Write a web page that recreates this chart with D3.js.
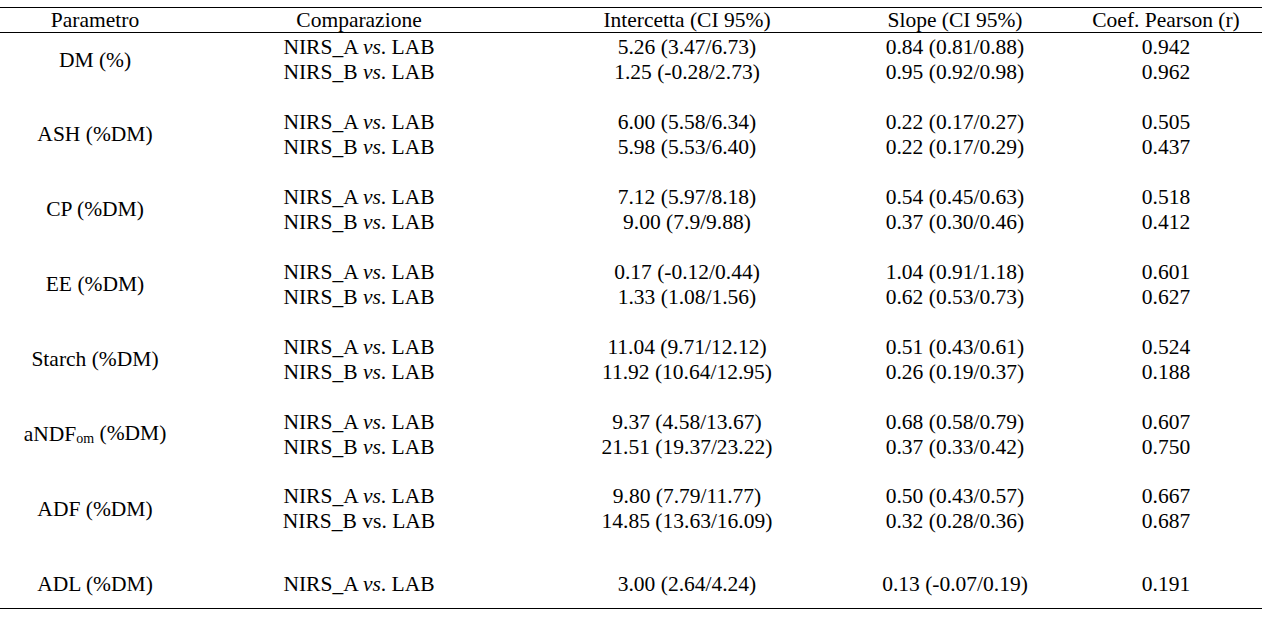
<!DOCTYPE html>
<head>
  <meta charset="utf-8">
  <script src="https://d3js.org/d3.v7.min.js"></script>
  <style>
    body {
      margin: 0;
      padding: 0;
      background: #fff;
    }

    text {
      font-family: "Liberation Serif", serif;
      font-size: 21.5px;
      fill: #000;
    }
  </style>
</head>

<body>
  <script>
    // intestazioni delle colonne
    var intestazioni = ['Parametro', 'Comparazione', 'Intercetta (CI 95%)', 'Slope (CI 95%)', 'Coef. Pearson (r)'];

    // parametri (gruppi di righe); "_{..}" = pedice
    var parametri = ['DM (%)', 'ASH (%DM)', 'CP (%DM)', 'EE (%DM)', 'Starch (%DM)',
      'aNDF_{om} (%DM)', 'ADF (%DM)', 'ADL (%DM)'];

    // una voce per riga
    var gruppoRiga = [0, 0, 1, 1, 2, 2, 3, 3, 4, 4, 5, 5, 6, 6, 7];
    var strumenti = ['NIRS_A', 'NIRS_B', 'NIRS_A', 'NIRS_B', 'NIRS_A', 'NIRS_B', 'NIRS_A', 'NIRS_B',
      'NIRS_A', 'NIRS_B', 'NIRS_A', 'NIRS_B', 'NIRS_A', 'NIRS_B', 'NIRS_A'];
    var vsCorsivo = [true, true, true, true, true, true, true, true,
      true, true, true, true, true, false, true];
    var intercetta = ['5.26 (3.47/6.73)', '1.25 (-0.28/2.73)', '6.00 (5.58/6.34)', '5.98 (5.53/6.40)',
      '7.12 (5.97/8.18)', '9.00 (7.9/9.88)', '0.17 (-0.12/0.44)', '1.33 (1.08/1.56)',
      '11.04 (9.71/12.12)', '11.92 (10.64/12.95)', '9.37 (4.58/13.67)', '21.51 (19.37/23.22)',
      '9.80 (7.79/11.77)', '14.85 (13.63/16.09)', '3.00 (2.64/4.24)'];
    var slope = ['0.84 (0.81/0.88)', '0.95 (0.92/0.98)', '0.22 (0.17/0.27)', '0.22 (0.17/0.29)',
      '0.54 (0.45/0.63)', '0.37 (0.30/0.46)', '1.04 (0.91/1.18)', '0.62 (0.53/0.73)',
      '0.51 (0.43/0.61)', '0.26 (0.19/0.37)', '0.68 (0.58/0.79)', '0.37 (0.33/0.42)',
      '0.50 (0.43/0.57)', '0.32 (0.28/0.36)', '0.13 (-0.07/0.19)'];
    var pearson = [0.942, 0.962, 0.505, 0.437, 0.518, 0.412, 0.601, 0.627,
      0.524, 0.188, 0.607, 0.750, 0.667, 0.687, 0.191];

    var width = 1262,
      height = 618;

    var svg = d3.select('body').append('svg')
      .attr('width', width)
      .attr('height', height);

    // centri delle colonne
    var x = d3.scaleOrdinal()
      .domain(d3.range(intestazioni.length))
      .range([95, 359, 687, 955, 1166]);

    // posizione (alto) di ciascun gruppo
    var yGruppo = d3.scaleLinear().domain([0, parametri.length - 1]).range([47, 571.3]);
    var passoRiga = 25;

    // quante righe ha ciascun gruppo
    var righePerGruppo = d3.rollup(gruppoRiga, function (v) { return v.length; }, function (d) { return d; });

    function yCentroGruppo(g) {
      return yGruppo(g) + passoRiga / 2;
    }

    function yRiga(i) {
      var g = gruppoRiga[i];
      var n = righePerGruppo.get(g);
      var pos = gruppoRiga.slice(0, i).filter(function (d) { return d === g; }).length;
      return yCentroGruppo(g) + (pos - (n - 1) / 2) * passoRiga;
    }

    // linee orizzontali
    [7, 32, 608].forEach(function (yy) {
      svg.append('line')
        .attr('x1', 0)
        .attr('x2', width)
        .attr('y1', yy + 0.5)
        .attr('y2', yy + 0.5)
        .attr('stroke', '#000')
        .attr('stroke-width', 1)
        .attr('shape-rendering', 'crispEdges');
    });

    // intestazione
    svg.append('g').selectAll('text')
      .data(intestazioni)
      .enter().append('text')
      .attr('x', function (d, i) { return x(i); })
      .attr('y', 20)
      .attr('dy', '0.33em')
      .attr('text-anchor', 'middle')
      .text(function (d) { return d; });

    // parametri
    var param = svg.append('g').selectAll('text')
      .data(parametri)
      .enter().append('text')
      .attr('x', x(0))
      .attr('y', function (d, i) { return yCentroGruppo(i); })
      .attr('dy', '0.33em')
      .attr('text-anchor', 'middle');

    param.each(function (d) {
      var t = d3.select(this);
      var m = d.match(/^(.*)_\{(.*)\}(.*)$/);
      if (!m) {
        t.text(d);
        return;
      }
      t.append('tspan').text(m[1]);
      t.append('tspan').attr('font-size', '14px').attr('dy', '0.12em').text(m[2]);
      t.append('tspan').attr('dy', '-0.12em').text(m[3]);
    });

    // comparazioni
    var comp = svg.append('g').selectAll('text')
      .data(strumenti)
      .enter().append('text')
      .attr('x', x(1))
      .attr('y', function (d, i) { return yRiga(i); })
      .attr('dy', '0.33em')
      .attr('text-anchor', 'middle');

    comp.append('tspan').text(function (d) { return d + ' '; });
    comp.append('tspan')
      .attr('font-style', function (d, i) { return vsCorsivo[i] ? 'italic' : 'normal'; })
      .text('vs');
    comp.append('tspan').text('. LAB');

    // colonne numeriche
    var colonne = [intercetta, slope, pearson.map(d3.format('.3f'))];
    colonne.forEach(function (valori, c) {
      svg.append('g').selectAll('text')
        .data(valori)
        .enter().append('text')
        .attr('x', x(c + 2))
        .attr('y', function (d, i) { return yRiga(i); })
        .attr('dy', '0.33em')
        .attr('text-anchor', 'middle')
        .text(function (d) { return d; });
    });
  </script>
</body>
